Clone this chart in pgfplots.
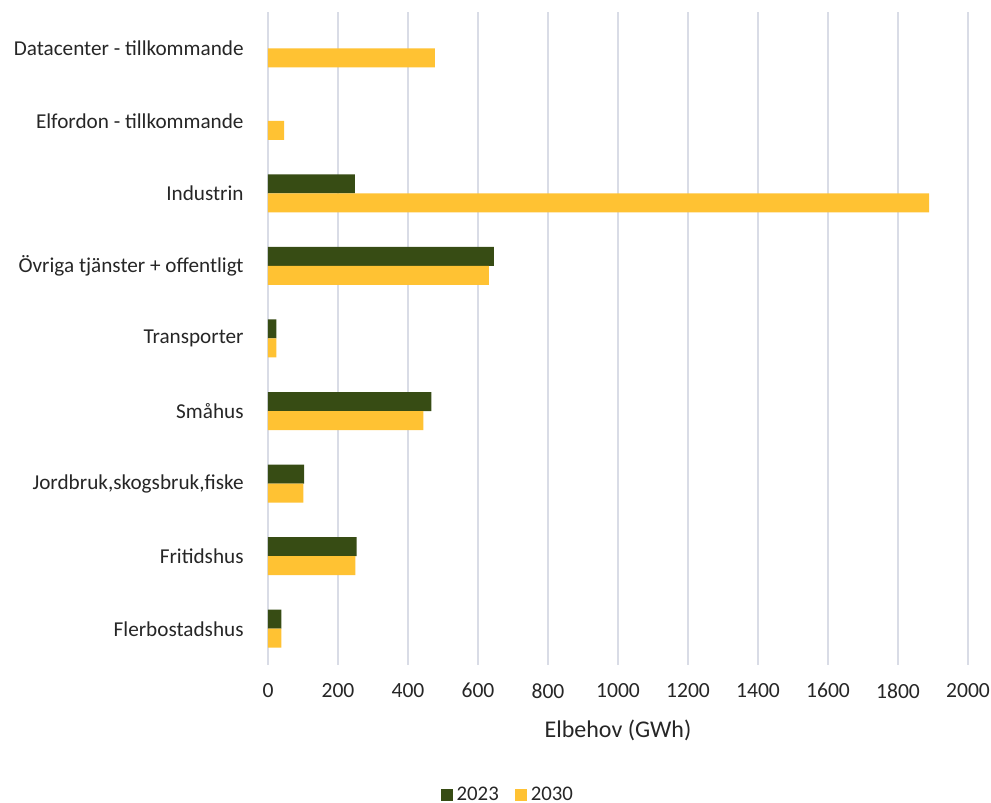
\documentclass[border=0pt]{standalone}
\usepackage{pgfplots}
\pgfplotsset{compat=1.18}
\usepackage{fontspec}
\setmainfont{Carlito}
\definecolor{g23}{HTML}{374C14}
\definecolor{y30}{HTML}{FFC233}
\definecolor{gridc}{HTML}{D9DCE6}
\definecolor{txt}{HTML}{262626}
\begin{document}
\begin{tikzpicture}
\useasboundingbox (0,0) rectangle (495.5pt,401.5pt);
\begin{axis}[
  at={(134pt,69pt)}, anchor=south west,
  scale only axis, width=350pt, height=326.5pt,
  xmin=0, xmax=2000, ymin=-0.5, ymax=8.5,
  xbar, bar width=9.5pt,
  xtick={0,200,...,2000},
  ytick={0,...,8},
  yticklabels={Flerbostadshus, Fritidshus, {Jordbruk,skogsbruk,fiske}, Småhus, Transporter, Övriga tjänster + offentligt, Industrin, Elfordon - tillkommande, Datacenter - tillkommande},
  xmajorgrids, grid style={gridc, line width=0.8pt},
  axis line style={draw=none},
  major tick length=0pt,
  /pgf/number format/assume math mode=true,
  /pgf/number format/1000 sep={},
  xticklabel style={font=\fontsize{10.8}{12}\selectfont, text=txt, inner sep=0pt, anchor=north, yshift=-9pt},
  yticklabel style={font=\fontsize{10.6}{12}\selectfont, text=txt, inner sep=0pt, anchor=east, xshift=-12pt},
  xlabel={Elbehov (GWh)},
  every axis x label/.style={at={(axis description cs:0.5,0)}, anchor=center, yshift=-32.5pt, font=\fontsize{12}{14}\selectfont, text=txt},
  legend columns=2,
  legend style={at={(axis description cs:0.344,0)}, anchor=center, yshift=-65pt, draw=none, fill=none,
    font=\fontsize{10.4}{12}\selectfont, text=txt,
    /tikz/every even column/.append style={column sep=6pt}},
  legend image code/.code={\fill[#1] (0pt,-3pt) rectangle (6pt,3pt);},
]
% 2023
\addplot[fill=g23, draw=none, bar shift=4.75pt] coordinates {
  (38,0) (253,1) (103,2) (467,3) (24,4) (645,5) (248,6)
};
% 2030
\addplot[fill=y30, draw=none, bar shift=-4.75pt] coordinates {
  (38,0) (250,1) (101,2) (444,3) (24,4) (631,5) (1889,6) (46,7) (477,8)
};
\legend{2023, 2030}
\end{axis}
\end{tikzpicture}
\end{document}
